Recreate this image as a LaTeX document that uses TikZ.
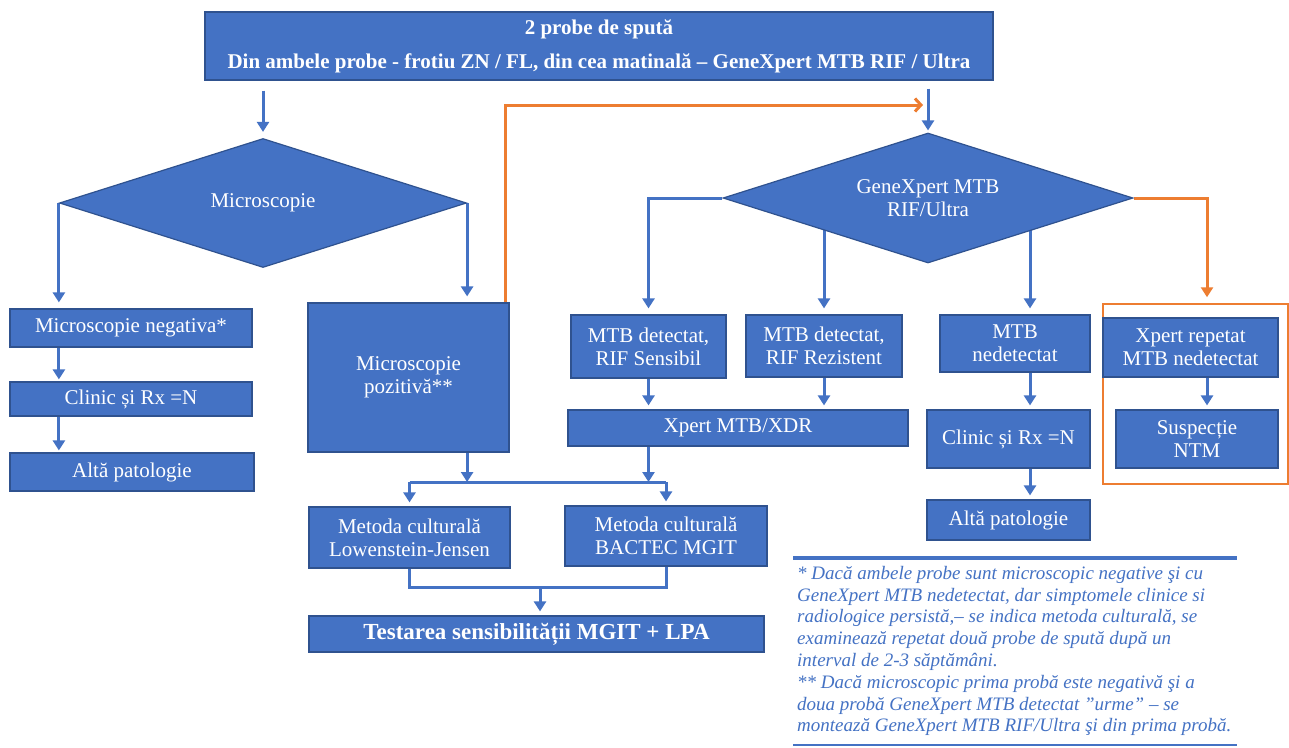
\documentclass[tikz,border=0pt]{standalone}
\usepackage{fontspec}
\setmainfont{Liberation Serif}
\usetikzlibrary{shapes.geometric,arrows.meta,backgrounds}
\definecolor{boxblue}{HTML}{4472C4}
\definecolor{edgeblue}{HTML}{2F528F}
\definecolor{flowor}{HTML}{ED7D31}
\tikzset{
  box/.style={draw=edgeblue, line width=1.2pt, fill=boxblue, text=white,
    align=center, inner sep=2pt, font=\fontsize{21}{23}\selectfont},
  dia/.style={box, diamond, aspect=3.2, inner sep=0pt},
  arr/.style={draw=boxblue, line width=3pt,
    -{Triangle[length=10pt,width=12pt]}, shorten >=6pt},
  oarr/.style={arr, draw=flowor},
  note/.style={text=boxblue, align=left, inner sep=0pt,
    font=\itshape\fontsize{19}{21.8}\selectfont},
}
\begin{document}
\begin{tikzpicture}[x=1pt,y=-1pt]
  \useasboundingbox (0,0) rectangle (1289,747);
  % Top box
  \node[box, minimum width=788pt, minimum height=68pt, text depth=4pt,
    font=\bfseries\fontsize{21}{22}\selectfont] (top) at (599,46)
    {2 probe de spută\\[12pt]Din ambele probe - frotiu ZN / FL, din cea matinală – GeneXpert MTB RIF / Ultra};
  % Decisions
  \node[dia, minimum width=407pt, minimum height=129pt] (mic) at (263,203) {Microscopie};
  \node[dia, minimum width=410pt, minimum height=130pt] (gx) at (928,198) {GeneXpert MTB\\RIF/Ultra};
  % Left column
  \node[box, minimum width=242pt, minimum height=38pt] (neg) at (131,328) {Microscopie negativa*};
  \node[box, minimum width=242pt, minimum height=34pt] (clin1) at (131,399) {Clinic și Rx =N};
  \node[box, minimum width=244pt, minimum height=38pt] (alta1) at (132,472) {Altă patologie};
  \node[box, minimum width=201pt, minimum height=149pt] (pos) at (408.5,377.5) {Microscopie\\pozitivă**};
  % Xpert results
  \node[box, minimum width=155pt, minimum height=63pt] (sens) at (648.5,346.5) {MTB detectat,\\RIF Sensibil};
  \node[box, minimum width=156pt, minimum height=62pt] (rez) at (824,346) {MTB detectat,\\RIF Rezistent};
  \node[box, minimum width=150pt, minimum height=57pt] (ned) at (1015,343.5) {MTB\\nedetectat};
  \node[draw=flowor, line width=1.5pt, minimum width=185pt, minimum height=180pt] (ntmbox) at (1195.5,394) {};
  \node[box, minimum width=175pt, minimum height=59pt] (rep) at (1190.5,347.5) {Xpert repetat\\MTB nedetectat};
  \node[box, minimum width=162pt, minimum height=58pt] (susp) at (1197,439) {Suspecție\\NTM};
  \node[box, minimum width=340pt, minimum height=36pt] (xdr) at (738,428) {Xpert MTB/XDR};
  \node[box, minimum width=163pt, minimum height=58pt] (clin2) at (1008.5,439) {Clinic și Rx =N};
  \node[box, minimum width=163pt, minimum height=40pt] (alta2) at (1008.5,520) {Altă patologie};
  % Culture
  \node[box, minimum width=201pt, minimum height=61pt] (lj) at (409.5,537.5) {Metoda culturală\\Lowenstein-Jensen};
  \node[box, minimum width=202pt, minimum height=60pt] (bac) at (666,536) {Metoda culturală\\BACTEC MGIT};
  \node[box, minimum width=455pt, minimum height=36pt, font=\bfseries\fontsize{23}{25}\selectfont] (test) at (536.5,634) {Testarea sensibilității MGIT + LPA};
  % Helper points
  \coordinate (spl) at (540,482);
  \coordinate (mrg) at (540,587);
  \coordinate (nx) at (1030,0);
  \coordinate (ox) at (1207,0);
  \coordinate (oend) at (923,105);
  % Connectors
  \begin{pgfonlayer}{background}
    \fill[white] (0,0) rectangle (1289,747);
    \draw[arr, shorten <=10pt] (top.south -| mic.north) -- (mic.north);
    \draw[arr, shorten <=8pt, shorten >=2pt] (top.south -| gx.north) -- (gx.north);
    \draw[arr] (mic.west) -- (mic.west |- neg.north);
    \draw[arr] (mic.east) -- (mic.east |- pos.north);
    \draw[arr, shorten >=2pt] (neg.south -| mic.west) -- (mic.west |- clin1.north);
    \draw[arr, shorten >=2pt] (clin1.south -| mic.west) -- (mic.west |- alta1.north);
    \draw[oarr, shorten >=0pt, -{Straight Barb[length=6pt,width=13pt]}]
      ([xshift=-4pt]pos.north east) |- (oend);
    \draw[arr] (gx.west) -| (sens.north);
    \draw[arr] (rez.north |- gx.center) -- (rez.north);
    \draw[arr] (nx |- gx.center) -- (nx |- ned.north);
    \draw[oarr] (gx.east) -| (ox |- ntmbox.north);
    \draw[arr, shorten >=4pt] (sens.south) -- (sens.south |- xdr.north);
    \draw[arr, shorten >=4pt] (rez.south) -- (rez.south |- xdr.north);
    \draw[arr, shorten >=4pt] (nx |- ned.south) -- (nx |- clin2.north);
    \draw[arr, shorten >=4pt] (nx |- clin2.south) -- (nx |- alta2.north);
    \draw[arr, shorten >=4pt] (ox |- rep.south) -- (ox |- susp.north);
    \draw[arr, shorten >=0pt] (pos.south -| mic.east) -- (mic.east |- spl);
    \draw[arr, shorten >=0pt] (xdr.south -| sens.south) -- (sens.south |- spl);
    \draw[draw=boxblue, line width=3pt] (lj.north |- spl) -- (bac.north |- spl);
    \draw[arr, shorten >=4pt] (lj.north |- spl) -- (lj.north);
    \draw[arr, shorten >=4pt] (bac.north |- spl) -- (bac.north);
    \draw[draw=boxblue, line width=3pt] (lj.south) -- (lj.south |- mrg) -- (bac.south |- mrg) -- (bac.south);
    \draw[arr, shorten >=4pt] (mrg) -- (mrg |- test.north);
  \end{pgfonlayer}
  % Footnote
  \draw[boxblue, line width=4pt] (793,558) -- (1237,558);
  \draw[boxblue, line width=2pt] (793,745) -- (1237,745);
  \node[note, anchor=north west] (fn) at (797,566) {* Dacă ambele probe sunt microscopic negative şi cu\\
    GeneXpert MTB nedetectat, dar simptomele clinice si\\
    radiologice persistă,– se indica metoda culturală, se\\
    examinează repetat două probe de spută după un\\
    interval de 2-3 săptămâni.\\
    ** Dacă microscopic prima probă este negativă şi a\\
    doua probă GeneXpert MTB detectat "urme" – se\\
    montează GeneXpert MTB RIF/Ultra şi din prima probă.};
\end{tikzpicture}
\end{document}
